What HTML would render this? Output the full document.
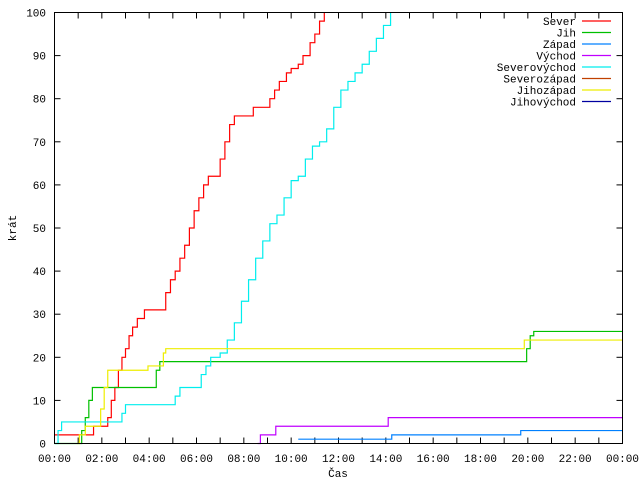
<!DOCTYPE html>
<html><head><meta charset="utf-8"><style>
body{margin:0;background:#fff}
svg{display:block;font-family:"Liberation Mono","DejaVu Sans Mono",monospace;font-size:11px}
</style></head><body>
<svg id="chart" width="640" height="480" viewBox="0 0 640 480">
<rect x="0" y="0" width="640" height="480" fill="#fff"/>
<g id="grid"></g>
<g id="series"></g>
<rect x="54.5" y="12.5" width="568" height="431" fill="none" stroke="#000"/>
<text x="16" y="228" transform="rotate(-90 16 228)" text-anchor="middle">krát</text>
<text x="338" y="477" text-anchor="middle">Čas</text>
<g id="legend"></g>
</svg>
<script>
const yTicks=[0,10,20,30,40,50,60,70,80,90,100];
const xTickLabels=["00:00","02:00","04:00","06:00","08:00","10:00","12:00","14:00","16:00","18:00","20:00","22:00","00:00"];
const seriesNames=["Sever","Jih","Západ","Východ","Severovýchod","Severozápad","Jihozápad","Jihovýchod"];
const seriesColors=["#ff0000","#00c000","#0080ff","#c000ff","#00eeee","#c04000","#eeee00","#0000a0"];
const severT=[0,1.65,2.25,2.4,2.55,2.7,2.85,3.0,3.15,3.3,3.5,3.8,4.0,4.5,4.7,4.9,5.1,5.3,5.5,5.7,5.9,6.1,6.3,6.5,6.9,7.0,7.2,7.4,7.6,7.8,8.2,8.4,8.9,9.1,9.3,9.5,9.8,10.0,10.3,10.5,10.8,11.0,11.2,11.4];
const severV=[2,4,6,10,13,17,20,22,25,27,29,31,31,31,35,38,40,43,46,50,54,57,60,62,62,66,70,74,76,76,76,78,78,80,82,84,86,87,88,90,93,95,98,100];
const jihT=[0,1.0,1.15,1.3,1.45,1.6,4.15,4.3,4.45,19.8,19.95,20.1,20.25];
const jihV=[0,0,3,6,10,13,13,17,19,19,22,25,26];
const zapadT=[10.3,14.25,19.7];
const zapadV=[1,2,3];
const vychodT=[8.58,8.7,9.25,9.35,14.0,14.1];
const vychodV=[0,2,2,4,4,6];
const svT=[0,0.15,0.3,2.7,2.85,3.0,4.9,5.1,5.3,6.0,6.2,6.4,6.6,7.0,7.3,7.6,7.9,8.2,8.5,8.8,9.1,9.4,9.7,10.0,10.3,10.6,10.9,11.2,11.5,11.8,12.1,12.4,12.7,13.0,13.3,13.6,13.9,14.2];
const svV=[0,3,5,5,7,9,9,11,13,13,16,18,20,21,24,28,33,38,43,47,51,53,57,61,62,66,69,70,73,78,82,84,86,88,91,94,97,100];
const jzT=[0.95,1.05,1.3,1.8,1.95,2.1,2.25,3.8,3.95,4.4,4.6,4.7,19.7,19.85];
const jzV=[0,2,4,4,8,13,17,17,18,18,21,22,22,24];
const seriesT=[severT,jihT,zapadT,vychodT,svT,[],jzT,[]];
const seriesV=[severV,jihV,zapadV,vychodV,svV,[],jzV,[]];

const X0=54.5,X1=622.5,Y0=443.5,Y1=12.5;
const xs=h=>X0+(X1-X0)*h/24;
const ys=v=>Y0-(Y0-Y1)*v/100;
const NS="http://www.w3.org/2000/svg";
function mk(tag,attrs,parent){const e=document.createElementNS(NS,tag);for(const k in attrs)e.setAttribute(k,attrs[k]);parent.appendChild(e);return e;}
const grid=document.getElementById('grid');
yTicks.forEach(v=>{
  const y=Math.round(ys(v))+0.5-0.5*0;
  const l1=mk('line',{x1:X0,x2:X0+6,y1:ys(v),y2:ys(v),stroke:'#000'},grid);
  
  
  mk('line',{x1:X1-6,x2:X1,y1:ys(v),y2:ys(v),stroke:'#000'},grid);
  const t=mk('text',{x:46,y:ys(v)+4,'text-anchor':'end'},grid);
  t.textContent=v;
  
  
});
for(let h=0;h<=24;h++){
  const l=mk('line',{x1:xs(h),x2:xs(h),y1:Y0,y2:Y0-6,stroke:'#000'},grid);
  
  
  mk('line',{x1:xs(h),x2:xs(h),y1:Y1,y2:Y1+6,stroke:'#000'},grid);
}
xTickLabels.forEach((s,i)=>{
  const t=mk('text',{x:xs(i*2),y:462,'text-anchor':'middle'},grid);
  t.textContent=s;
  
  
});
const sg=document.getElementById('series');
seriesT.forEach((T,i)=>{
  if(!T.length)return;
  const V=seriesV[i];
  let d='M'+xs(T[0])+','+ys(V[0]);
  for(let k=1;k<T.length;k++){d+=' L'+xs(T[k])+','+ys(V[k-1])+' L'+xs(T[k])+','+ys(V[k]);}
  if(V[V.length-1]<100)d+=' L'+xs(24)+','+ys(V[V.length-1]);
  const p=mk('path',{d:d,fill:'none',stroke:seriesColors[i],'stroke-width':1.2},sg);
  
  
});
const lg=document.getElementById('legend');
seriesNames.forEach((n,i)=>{
  const y=21+i*11.5;
  const t=mk('text',{x:576,y:y+4,'text-anchor':'end'},lg);
  t.textContent=n;
  
  
  const l=mk('line',{x1:582,x2:611,y1:y,y2:y,stroke:seriesColors[i],'stroke-width':1.2},lg);
  
  
});
</script>
</body></html>
